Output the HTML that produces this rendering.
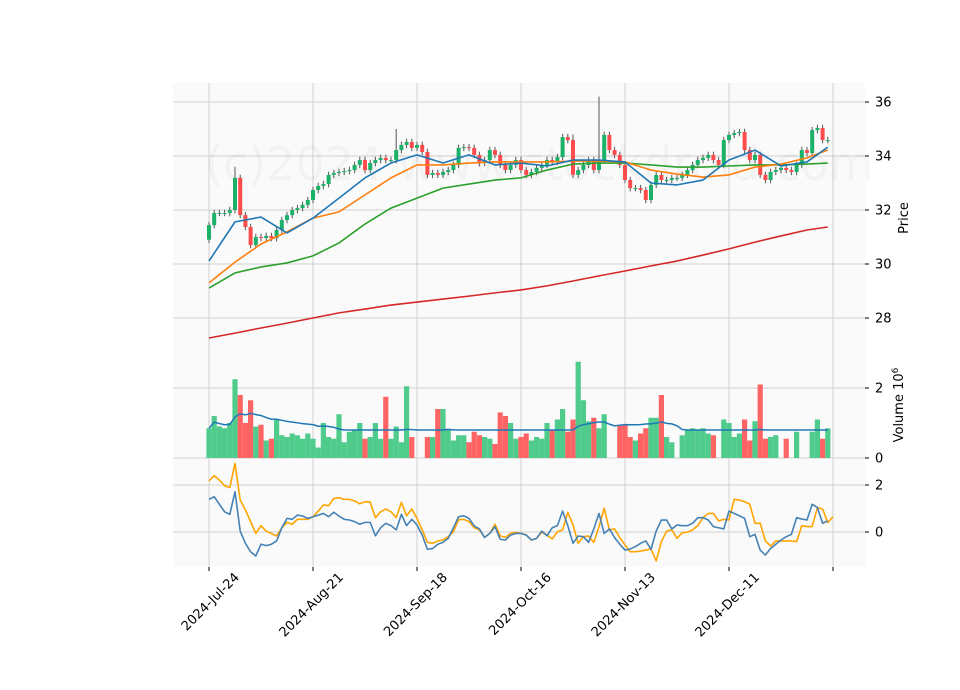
<!DOCTYPE html>
<html><head><meta charset="utf-8"><style>
body{margin:0;background:#fff;}
svg{display:block;font-family:"DejaVu Sans","Liberation Sans",sans-serif;}
</style></head><body>
<svg id="c" width="960" height="690" viewBox="0 0 960 690"></svg>
<script>
const closes=[31.44,31.89,31.89,31.89,32.0,33.19,31.81,31.37,30.70,31.0,
30.96,31.04,30.96,31.26,31.63,31.81,32.0,32.07,32.19,
32.37,32.74,32.89,32.96,33.30,33.37,33.41,33.44,33.48,
33.67,33.85,33.48,33.74,33.85,33.93,33.85,33.85,34.22,34.41,
34.52,34.30,34.41,34.15,33.30,33.37,33.30,33.41,33.48,33.67,
34.30,34.33,34.30,34.04,33.74,33.85,34.22,34.04,33.67,33.48,
33.67,33.85,33.48,33.30,33.41,33.56,33.67,33.85,33.78,33.96,
34.70,34.59,33.30,33.48,33.67,33.85,33.48,33.85,34.78,34.22,
34.04,33.67,33.11,32.81,32.81,32.74,32.37,32.93,33.30,
33.11,33.11,33.19,33.19,33.30,33.48,33.67,33.85,33.93,34.04,
33.85,33.67,34.59,34.78,34.85,34.89,34.22,33.85,34.04,33.30,
33.11,33.41,33.48,33.56,33.48,33.41,33.67,34.22,34.11,34.96,
35.04,34.59,34.59];
const firstOpen=30.9;
const highSpikes={5:33.6,36:35.0,75:36.2,70:34.8,96:32.0};
const volumes=[0.85,1.2,0.9,0.85,1.0,2.25,1.8,1.0,1.65,0.9,
0.95,0.5,0.55,1.1,0.65,0.6,0.7,0.65,0.55,0.7,
0.55,0.3,1.0,0.6,0.55,1.25,0.45,0.75,0.8,1.0,
0.55,0.6,1.0,0.55,1.75,0.55,0.9,0.45,2.05,0.6,
0,0,0.6,0.6,1.4,1.4,0.8,0.5,0.65,0.65,
0.45,0.75,0.65,0.6,0.55,0.4,1.3,1.2,1.0,0.55,
0.6,0.7,0.5,0.6,0.55,1.0,0.8,1.1,1.4,0.75,
1.1,2.75,1.65,1.05,1.15,0.85,1.25,0,0,0.95,
0.95,0.6,0.5,0.7,0.85,1.15,1.15,1.8,0.6,0.45,0,0.65,0.8,
0.85,0.8,0.85,0.7,0.65,0,1.1,1.0,0.6,0.7,
1.1,0.5,1.05,2.1,0.55,0.6,0.65,0,0.55,0,
0.75,0,0,0.75,1.1,0.55,0.85];
// moving averages sampled every 5 bars (last = bar 119)
const maFast=[30.11,31.56,31.74,31.15,31.70,32.44,33.19,33.74,34.04,33.74,34.04,33.67,33.74,33.63,33.85,33.85,33.78,33.0,32.93,33.11,33.85,34.22,33.63,33.78,34.33];
const maMid=[29.30,30.07,30.74,31.19,31.70,31.93,32.56,33.19,33.67,33.67,33.74,33.78,33.78,33.78,33.81,33.81,33.78,33.48,33.33,33.22,33.30,33.59,33.70,33.93,34.22];
const maSlow=[29.11,29.67,29.89,30.04,30.30,30.78,31.48,32.07,32.44,32.81,32.96,33.11,33.19,33.48,33.70,33.74,33.74,33.67,33.59,33.59,33.63,33.67,33.67,33.70,33.74];
const maLong=[27.26,27.44,27.63,27.81,28.0,28.19,28.33,28.48,28.59,28.70,28.81,28.93,29.04,29.19,29.37,29.56,29.74,29.93,30.11,30.33,30.56,30.81,31.04,31.26,31.37];
const oscA=[2.17,2.40,2.21,1.97,1.89,2.92,1.36,0.94,0.44,-0.06,0.27,0.04,-0.06,-0.17,0.18,0.41,0.33,0.54,0.54,0.54,0.65,0.89,1.15,1.12,1.43,1.46,1.39,1.39,1.32,1.20,1.29,1.28,0.61,0.86,0.98,0.86,0.61,1.26,0.69,0.98,0.58,0.09,-0.44,-0.48,-0.38,-0.34,-0.20,0.01,0.52,0.54,0.44,0.18,0.09,-0.23,-0.06,0.33,-0.17,-0.23,-0.06,-0.01,
-0.06,-0.13,-0.34,-0.27,-0.01,-0.13,-0.30,0.01,0.09,0.84,0.30,-0.48,-0.20,-0.17,-0.44,0.23,1.01,0.09,0.13,-0.24,-0.55,-0.84,-0.84,-0.81,-0.77,-0.72,-1.23,-0.41,0.04,0.09,-0.27,-0.03,-0.01,0.09,0.27,0.61,0.79,0.79,0.47,0.54,0.51,1.39,1.36,1.29,1.18,0.37,0.37,-0.38,-0.60,-0.38,-0.38,-0.38,-0.38,-0.41,0.27,0.23,0.23,1.04,0.98,0.40,0.65];
const oscB=[1.39,1.50,1.18,0.86,0.75,1.71,0.04,-0.48,-0.84,-1.02,-0.52,-0.58,-0.52,-0.38,0.18,0.58,0.54,0.72,0.68,0.58,0.65,0.72,0.79,0.65,0.84,0.68,0.54,0.51,0.44,0.33,0.41,0.41,-0.16,0.18,0.37,0.27,0.09,0.75,0.27,0.54,0.30,-0.13,-0.74,-0.70,-0.52,-0.44,-0.27,0.18,0.65,0.69,0.58,0.26,0.13,-0.23,-0.06,0.23,-0.31,-0.34,-0.13,-0.06,
-0.06,-0.13,-0.34,-0.27,0.04,-0.16,0.18,0.27,0.89,0.27,-0.48,-0.17,-0.20,-0.44,0.13,0.79,-0.06,0.13,-0.24,-0.52,-0.77,-0.72,-0.62,-0.48,-0.38,-0.74,0.04,0.51,0.51,0.13,0.30,0.27,0.27,0.37,0.61,0.61,0.51,0.23,0.18,0.13,0.89,0.79,0.69,0.58,-0.20,-0.10,-0.77,-0.98,-0.70,-0.52,-0.34,-0.20,-0.10,0.61,0.55,0.51,1.18,1.04,0.37,0.47];
const xTickLabels=["2024-Jul-24","2024-Aug-21","2024-Sep-18","2024-Oct-16","2024-Nov-13","2024-Dec-11",""];
const priceTicks=[28,30,32,34,36];
const volTicks=[0,2];
const oscTicks=[0,2];

const NS="http://www.w3.org/2000/svg";
const svg=document.getElementById('c');
function mk(tag,attrs,parent){const e=document.createElementNS(NS,tag);for(const k in attrs)e.setAttribute(k,attrs[k]);(parent||svg).appendChild(e);return e;}
const X0=209,STEP=5.2;
const xAt=i=>X0+i*STEP;
const yP=p=>102+(36-p)*27;
const yV=v=>458-v*35;
const yO=v=>532-v*23.5;
const L=173,R=865;
const GREEN="#1bb169",RED="#ff4b4b",VG="#4fcb8c",VR="#ff6464";

[[83,351,'price-panel'],[351,458,'volume-panel'],[458,567,'indicator-panel']].forEach(([t,b,n])=>{
 const r=mk('rect',{x:L,y:t,width:R-L,height:b-t,fill:'#fafafa'});
 
});
xTickLabels.forEach((lab,k)=>{
 const x=X0+k*104;
 mk('line',{x1:x,x2:x,y1:83,y2:567,stroke:'#d0d0d0','stroke-width':1});
 mk('line',{x1:x,x2:x,y1:567,y2:571,stroke:'#000','stroke-width':1});
 if(lab){const ax=x+31,ay=578;
 const tx=mk('text',{x:ax,y:ay,'font-size':13,'text-anchor':'end',transform:`rotate(-45 ${ax} ${ay})`,fill:'#000'});tx.textContent=lab;
 }
});
function yAxis(ticks,fy){ticks.forEach(v=>{const y=fy(v);
 mk('line',{x1:L,x2:R,y1:y,y2:y,stroke:'#d0d0d0','stroke-width':1});
 mk('line',{x1:R,x2:R+4,y1:y,y2:y,stroke:'#000','stroke-width':1});
 const t=mk('text',{x:R+10,y:y+4.5,'font-size':13,fill:'#000'});t.textContent=v;
 
});}
yAxis(priceTicks,yP);yAxis(volTicks,yV);yAxis(oscTicks,yO);

const wm=mk('text',{x:205,y:180,'font-size':46,fill:'rgba(0,0,0,0.03)'});wm.textContent='(c)2024 www.stockdroid.com';


const g=mk('g',{});
closes.forEach((c,i)=>{
 const o=i===0?firstOpen:closes[i-1];
 const up=c>=o;const col=up?GREEN:RED;
 let hi=Math.max(o,c)+0.12,lo=Math.min(o,c)-0.12;
 if(highSpikes[i])hi=Math.max(hi,highSpikes[i]);
 const x=xAt(i);
 mk('line',{x1:x,x2:x,y1:yP(hi),y2:yP(lo),stroke:'#555','stroke-width':1},g);
 const top=yP(Math.max(o,c)),bot=yP(Math.min(o,c));
 const b=mk('rect',{x:x-2,y:top,width:4,height:Math.max(1,bot-top),fill:col},g);
 
});
function maLine(arr,color,name){
 const pts=arr.map((v,k)=>{const i=Math.min(k*5,closes.length-1);return xAt(i)+','+yP(v);}).join(' ');
 const p=mk('polyline',{points:pts,fill:'none',stroke:color,'stroke-width':1.6,'stroke-linejoin':'round'});
 
}
maLine(maLong,'#d62728','ma-long-line');
maLine(maSlow,'#2ca02c','ma-slow-line');
maLine(maMid,'#ff7f0e','ma-mid-line');
maLine(maFast,'#1f77b4','ma-fast-line');

const gv=mk('g',{});
volumes.forEach((v,i)=>{
 if(i>=closes.length)return;
 const o=i===0?firstOpen:closes[i-1];const up=closes[i]>=o;
 const b=mk('rect',{x:xAt(i)-2.6,y:yV(v),width:5.2,height:v*35,fill:up?VG:VR},gv);
 
});
const vma=volumes.map((v,i)=>{const s=volumes.slice(Math.max(0,i-19),i+1);return s.reduce((a,b)=>a+b,0)/s.length;});
const vp=mk('polyline',{points:vma.slice(0,closes.length).map((v,i)=>xAt(i)+','+yV(Math.max(v,0.8))).join(' '),fill:'none',stroke:'#1f77b4','stroke-width':1.5});


[[oscA,'#ffa500','indicator-line-orange'],[oscB,'#4682b4','indicator-line-blue']].forEach(([a,c,n])=>{
 const p=mk('polyline',{points:a.map((v,i)=>xAt(i)+','+yO(v)).join(' '),fill:'none',stroke:c,'stroke-width':1.6,'stroke-linejoin':'round'});
 
});

const pt=mk('text',{x:908,y:218,'font-size':13,'text-anchor':'middle',transform:'rotate(-90 908 218)'});pt.textContent='Price';

const vt=mk('text',{x:903,y:405,'font-size':13,'text-anchor':'middle',transform:'rotate(-90 903 405)'});
vt.innerHTML='Volume  10<tspan font-size="9" dy="-5">6</tspan>';

</script>
</body></html>
